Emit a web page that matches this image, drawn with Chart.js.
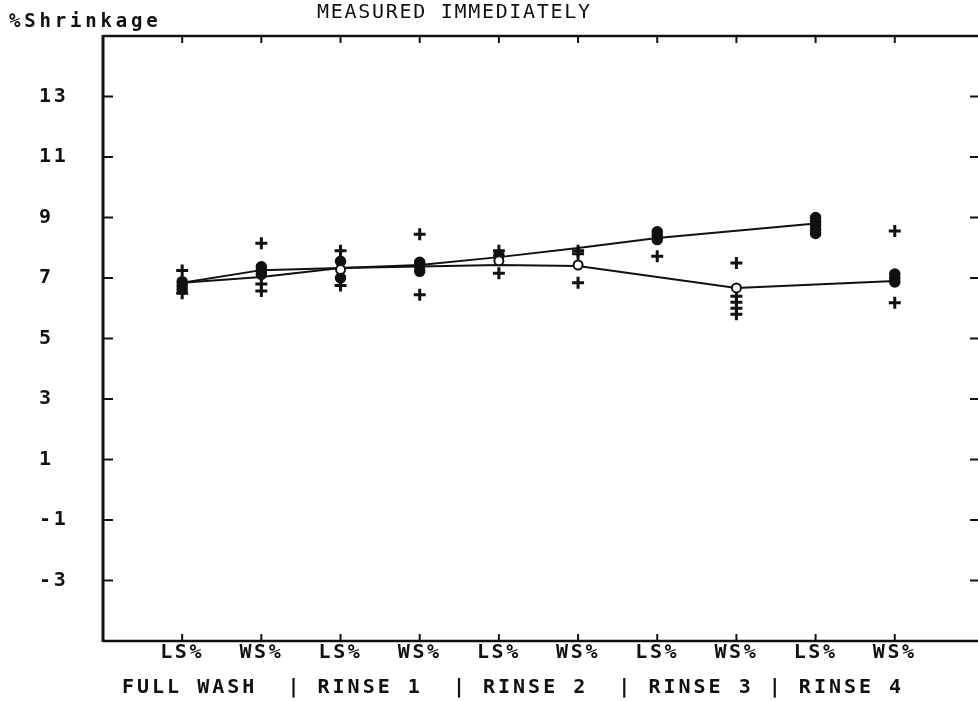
<!DOCTYPE html>
<html>
<head>
<meta charset="utf-8">
<script src="https://cdn.jsdelivr.net/npm/chart.js@4.4.1/dist/chart.umd.min.js"></script>
<style>
  html, body { margin: 0; padding: 0; background: #fff; overflow: hidden; }
  #wrap { width: 978px; height: 701px; }
</style>
</head>
<body>
<div id="wrap"><canvas id="c" width="978" height="701"></canvas></div>
<script>
// ---------- data ----------
const titleText = 'MEASURED IMMEDIATELY';
const yLabelText = '%Shrinkage';
const groupText = 'FULL WASH  | RINSE 1  | RINSE 2  | RINSE 3 | RINSE 4';
const categories = ['LS%', 'WS%', 'LS%', 'WS%', 'LS%', 'WS%', 'LS%', 'WS%', 'LS%', 'WS%'];
const yTickValues = [-3, -1, 1, 3, 5, 7, 9, 11, 13];

const upperLine = [6.84, 7.26, 7.33, 7.43, 7.69, 7.99, 8.32, null, 8.80, null];
const lowerLine = [6.84, 7.03, 7.33, 7.38, 7.43, 7.40, null, 6.67, null, 6.90];
const openMeans = [null, null, 7.28, null, 7.57, 7.43, null, 6.67, null, null];
const filledPoints = [
  [6.62, 6.75, 6.88],
  [7.12, 7.25, 7.37],
  [7.55, 7.00],
  [7.22, 7.38, 7.52],
  [7.75],
  [],
  [8.27, 8.40, 8.53],
  [],
  [8.47, 8.60, 8.74, 8.88, 9.00],
  [6.87, 7.00, 7.13]
];
const crossPoints = [
  [7.25, 6.50],
  [8.15, 6.80, 6.57],
  [7.90, 6.75],
  [8.45, 6.45],
  [7.90, 7.16],
  [7.90, 7.80, 6.84],
  [7.72],
  [7.50, 6.40, 6.20, 6.00, 5.80],
  [],
  [8.55, 6.18]
];

// ---------- helpers to build library data ----------
const toXY = arr => arr.map((v, i) => v === null ? null : { x: i + 1, y: v }).filter(p => p);
const toXYMulti = arr => arr.flatMap((vals, i) => vals.map(v => ({ x: i + 1, y: v })));

const INK = '#111';
const FONT = 'DejaVu Sans Mono';
Chart.defaults.font.family = FONT;
Chart.defaults.color = INK;

const framePlugin = {
  id: 'frame',
  beforeDraw(chart) {
    chart.ctx.letterSpacing = '2.6px';
  },
  afterDraw(chart) {
    const { ctx, chartArea: a, scales: { x, y } } = chart;
    const W = chart.width;
    ctx.save();
    ctx.strokeStyle = INK;
    ctx.lineCap = 'butt';
    // frame
    ctx.lineWidth = 3;
    ctx.beginPath(); ctx.moveTo(a.left, a.top - 1); ctx.lineTo(a.left, a.bottom + 1); ctx.stroke();
    ctx.lineWidth = 2.5;
    ctx.beginPath(); ctx.moveTo(a.left, a.top); ctx.lineTo(W, a.top); ctx.stroke();
    ctx.beginPath(); ctx.moveTo(a.left, a.bottom); ctx.lineTo(W, a.bottom); ctx.stroke();
    // y ticks (left inward, right inward)
    ctx.lineWidth = 2;
    yTickValues.forEach(v => {
      const py = y.getPixelForValue(v);
      ctx.beginPath(); ctx.moveTo(a.left, py); ctx.lineTo(a.left + 10, py); ctx.stroke();
      ctx.beginPath(); ctx.moveTo(W - 8, py); ctx.lineTo(W, py); ctx.stroke();
    });
    // x ticks (top downward, bottom upward)
    categories.forEach((c, i) => {
      const px = x.getPixelForValue(i + 1);
      ctx.beginPath(); ctx.moveTo(px, a.top); ctx.lineTo(px, a.top + 7); ctx.stroke();
      ctx.beginPath(); ctx.moveTo(px, a.bottom); ctx.lineTo(px, a.bottom - 7); ctx.stroke();
    });
    // texts
    ctx.fillStyle = INK;
    ctx.textAlign = 'left';
    ctx.textBaseline = 'alphabetic';
    ctx.font = '20px "' + FONT + '"';
    ctx.letterSpacing = '1.7px';
    ctx.fillText(titleText, 317, 18);
    ctx.font = 'bold 19px "' + FONT + '"';
    ctx.letterSpacing = '3.8px';
    ctx.fillText(yLabelText, 9, 27);
    ctx.font = 'bold 20px "' + FONT + '"';
    ctx.letterSpacing = '3px';
    ctx.fillText(groupText, 122, 693);
    ctx.restore();
  }
};

new Chart(document.getElementById('c'), {
  type: 'scatter',
  data: {
    datasets: [
      {
        label: 'open means',
        data: toXY(openMeans),
        pointStyle: 'circle',
        pointRadius: 4.5,
        backgroundColor: '#fff',
        borderColor: INK,
        borderWidth: 2,
        order: 0
      },
      {
        label: 'filled points',
        data: toXYMulti(filledPoints),
        pointStyle: 'circle',
        pointRadius: 5,
        backgroundColor: INK,
        borderColor: INK,
        borderWidth: 1.5,
        order: 1
      },
      {
        label: 'cross points',
        data: toXYMulti(crossPoints),
        pointStyle: 'cross',
        pointRadius: 6,
        borderColor: INK,
        borderWidth: 3,
        order: 2
      },
      {
        label: 'upper',
        type: 'line',
        data: toXY(upperLine),
        showLine: true,
        borderColor: INK,
        borderWidth: 2,
        pointRadius: 0,
        tension: 0,
        order: 3
      },
      {
        label: 'lower',
        type: 'line',
        data: toXY(lowerLine),
        showLine: true,
        borderColor: INK,
        borderWidth: 2,
        pointRadius: 0,
        tension: 0,
        order: 4
      }
    ]
  },
  options: {
    responsive: false,
    animation: false,
    devicePixelRatio: 1,
    layout: { padding: { left: 39, top: 36, right: 0, bottom: 0 } },
    plugins: { legend: { display: false }, tooltip: { enabled: false }, title: { display: false } },
    scales: {
      x: {
        type: 'linear',
        min: 0,
        max: 10.9375,
        grid: { display: false, drawTicks: false },
        border: { display: false },
        afterBuildTicks: s => { s.ticks = categories.map((c, i) => ({ value: i + 1 })); },
        afterFit: s => { s.height = 60; },
        ticks: {
          autoSkip: false,
          maxRotation: 0,
          padding: 0,
          font: { size: 20, weight: 'bold' },
          color: INK,
          callback: v => categories[v - 1]
        }
      },
      y: {
        type: 'linear',
        min: -5,
        max: 15,
        grid: { display: false, drawTicks: false },
        border: { display: false },
        afterBuildTicks: s => { s.ticks = yTickValues.map(v => ({ value: v })); },
        afterFit: s => { s.width = 64; },
        ticks: {
          crossAlign: 'far',
          padding: 0,
          font: { size: 20, weight: 'bold' },
          color: INK,
          callback: v => String(v)
        }
      }
    }
  },
  plugins: [framePlugin]
});
</script>
</body>
</html>
